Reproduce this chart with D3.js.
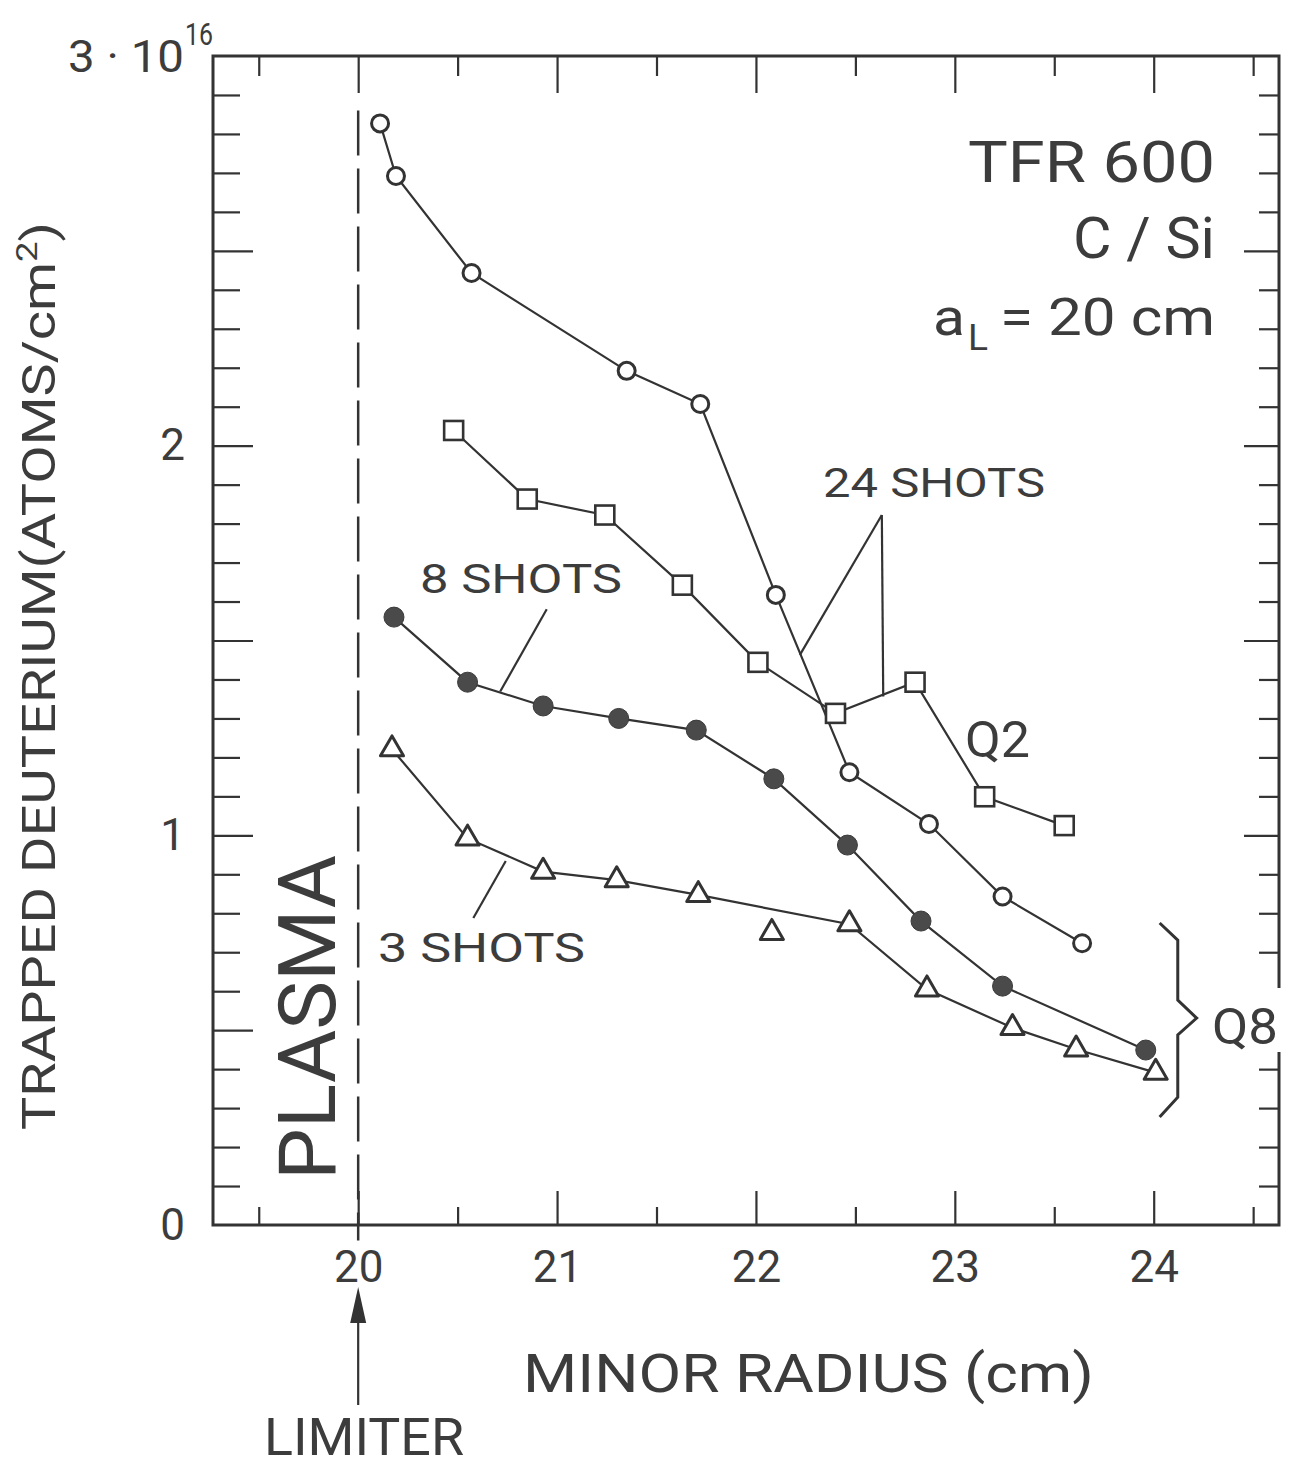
<!DOCTYPE html>
<html><head><meta charset="utf-8">
<script src="https://cdn.jsdelivr.net/npm/d3@7"></script>
<style>
body{margin:0;background:#fff}
text{font-family:Roboto,"DejaVu Sans",sans-serif;fill:#3c3c3c}
</style>
</head><body>
<svg id="c" width="1296" height="1469"></svg>
<script>
// ---- data (minor radius in cm, trapped deuterium in 1e16 atoms/cm^2) ----
const circR = [20.11,20.19,20.57,21.35,21.72,22.10,22.47,22.87,23.24,23.64];   // Q8, 24 shots
const circD = [2.827,2.692,2.443,2.192,2.107,1.617,1.162,1.029,0.843,0.723];
const sqR   = [20.48,20.85,21.24,21.63,22.01,22.40,22.80,23.15,23.55];         // Q2, 24 shots
const sqD   = [2.039,1.863,1.822,1.642,1.444,1.313,1.393,1.099,1.025];
const dotR  = [20.18,20.55,20.93,21.31,21.70,22.09,22.46,22.83,23.24,23.96];   // Q8, 8 shots
const dotD  = [1.560,1.393,1.332,1.300,1.270,1.145,0.975,0.780,0.613,0.449];
const triR  = [20.17,20.55,20.93,21.30,21.71,22.47,22.86,23.29,23.61,24.01];   // Q8, 3 shots
const triD  = [1.221,0.992,0.907,0.885,0.847,0.772,0.605,0.506,0.451,0.391];
const triLoneR = [22.08];                                                        // unconnected point
const triLoneD = [0.750];

const xMajor = [20,21,22,23,24];
const xMinor = [19.5,20.5,21.5,22.5,23.5,24.5];
const yLabels = [0,1,2];

const svg = d3.select("#c");
const INK = "#333";
const x = d3.scaleLinear().domain([19.27,24.63]).range([213,1279]);
const y = d3.scaleLinear().domain([0,3]).range([1225,56]);
const zip = (a,b)=>a.map((v,i)=>({r:v,d:b[i]}));

// ---- frame ----
svg.append("rect").attr("x",x(19.27)).attr("y",y(3)).attr("width",x(24.63)-x(19.27))
  .attr("height",y(0)-y(3)).attr("fill","none").attr("stroke",INK).attr("stroke-width",3);

const yAll = d3.range(1,30).map(i=>i/10);
const yMaj = yAll.filter(v=>Math.abs(v*2-Math.round(v*2))<1e-6);
const yMin = yAll.filter(v=>!yMaj.includes(v));

function styleAxis(g){
  g.select(".domain").remove();
  g.selectAll(".tick line").attr("stroke",INK).attr("stroke-width",2.2);
  g.selectAll("text").style("font-family","Roboto, 'DejaVu Sans', sans-serif").attr("fill","#3c3c3c");
}
// bottom
svg.append("g").attr("transform",`translate(0,${y(0)})`)
  .call(d3.axisBottom(x).tickValues(xMinor.filter(v=>v<24.6)).tickSize(-18).tickFormat("")).call(styleAxis);
svg.append("g").attr("transform",`translate(0,${y(0)})`)
  .call(d3.axisBottom(x).tickValues(xMajor).tickSize(-34).tickPadding(26).tickFormat(d3.format("d")))
  .call(styleAxis).call(g=>g.selectAll("text").attr("font-size",44));
// top
svg.append("g").attr("transform",`translate(0,${y(3)})`)
  .call(d3.axisTop(x).tickValues(xMinor.filter(v=>v<24.6)).tickSize(-20).tickFormat("")).call(styleAxis);
svg.append("g").attr("transform",`translate(0,${y(3)})`)
  .call(d3.axisTop(x).tickValues(xMajor).tickSize(-37).tickFormat("")).call(styleAxis);
// left
svg.append("g").attr("transform",`translate(${x(19.27)},0)`)
  .call(d3.axisLeft(y).tickValues(yMin).tickSize(-27).tickFormat("")).call(styleAxis);
svg.append("g").attr("transform",`translate(${x(19.27)},0)`)
  .call(d3.axisLeft(y).tickValues(yMaj).tickSize(-40).tickFormat("")).call(styleAxis);
svg.append("g").attr("transform",`translate(${x(19.27)},0)`)
  .call(d3.axisLeft(y).tickValues(yLabels).tickSize(0).tickPadding(28).tickFormat(d3.format("d")))
  .call(styleAxis).call(g=>g.selectAll("text").attr("font-size",44));
// right
svg.append("g").attr("transform",`translate(${x(24.63)},0)`)
  .call(d3.axisRight(y).tickValues(yMin).tickSize(-20).tickFormat("")).call(styleAxis);
svg.append("g").attr("transform",`translate(${x(24.63)},0)`)
  .call(d3.axisRight(y).tickValues(yMaj).tickSize(-35).tickFormat("")).call(styleAxis);

// "3·10^16" label
svg.append("text").attr("x",68).attr("y",72).attr("font-size",44)
  .attr("textLength",116).attr("lengthAdjust","spacingAndGlyphs").text("3 · 10");
svg.append("text").attr("x",185).attr("y",45).attr("font-size",32)
  .attr("textLength",28).attr("lengthAdjust","spacingAndGlyphs").text("16");

// ---- limiter dashed line ----
svg.append("line").attr("x1",x(20)).attr("x2",x(20)).attr("y1",y(2.86)).attr("y2",y(-0.04))
  .attr("stroke",INK).attr("stroke-width",2.5).attr("stroke-dasharray","45 13");

// ---- series lines ----
const line = d3.line().x(p=>x(p.r)).y(p=>y(p.d));
[[circR,circD],[sqR,sqD],[dotR,dotD],[triR,triD]].forEach(([a,b])=>{
  svg.append("path").datum(zip(a,b)).attr("d",line).attr("fill","none")
    .attr("stroke",INK).attr("stroke-width",2.2);
});

// ---- annotation leader lines (data coordinates) ----
const leaders = [
  [[20.948,1.580],[20.714,1.369]],
  [[20.742,0.934],[20.579,0.788]],
  [[22.633,1.822],[22.221,1.463]],
  [[22.633,1.822],[22.640,1.356]]
];
leaders.forEach(seg=>{
  svg.append("path").attr("d",d3.line().x(p=>x(p[0])).y(p=>y(p[1]))(seg))
    .attr("fill","none").attr("stroke",INK).attr("stroke-width",2.2);
});
// Q8 brace
const brace = [[24.030,0.775],[24.121,0.731],[24.121,0.577],[24.216,0.531],[24.121,0.488],[24.121,0.328],[24.030,0.277]];
svg.append("path").attr("d",d3.line().x(p=>x(p[0])).y(p=>y(p[1]))(brace))
  .attr("fill","none").attr("stroke",INK).attr("stroke-width",3);

// ---- markers ----
svg.append("g").selectAll("circle").data(zip(circR,circD)).join("circle")
  .attr("cx",p=>x(p.r)).attr("cy",p=>y(p.d)).attr("r",8.5)
  .attr("fill","#fff").attr("stroke",INK).attr("stroke-width",3);
svg.append("g").selectAll("rect").data(zip(sqR,sqD)).join("rect")
  .attr("x",p=>x(p.r)-9.5).attr("y",p=>y(p.d)-9.5).attr("width",19).attr("height",19)
  .attr("fill","#fff").attr("stroke",INK).attr("stroke-width",2.6);
svg.append("g").selectAll("circle").data(zip(dotR,dotD)).join("circle")
  .attr("cx",p=>x(p.r)).attr("cy",p=>y(p.d)).attr("r",10)
  .attr("fill","#4a4a4a").attr("stroke","#3a3a3a").attr("stroke-width",1);
const tri = d3.symbol().type(d3.symbolTriangle).size(230);
svg.append("g").selectAll("path").data(zip(triR,triD).concat(zip(triLoneR,triLoneD))).join("path")
  .attr("transform",p=>`translate(${x(p.r)},${y(p.d)})`).attr("d",tri)
  .attr("fill","#fff").attr("stroke",INK).attr("stroke-width",3).attr("stroke-linejoin","round");

// ---- texts ----
function txt(s,xx,yy,size,len,anchor){
  const t=svg.append("text").attr("x",xx).attr("y",yy).attr("font-size",size).text(s);
  if(len) t.attr("textLength",len).attr("lengthAdjust","spacingAndGlyphs");
  if(anchor) t.attr("text-anchor",anchor);
  return t;
}
txt("TFR 600",968,182,58,247);
txt("C / Si",1073,258,58,142);
txt("a",933,335,52,32);
txt("L",968,350,36,20);
txt("= 20 cm",1000,335,52,215);
txt("24 SHOTS",823,497,40,222);
txt("8 SHOTS",420,593,40,202);
txt("3 SHOTS",378,962,40,207);
txt("Q2",965,757,50,65);
// Q8 with a break in the right axis
svg.append("rect").attr("x",1206).attr("y",988).attr("width",84).attr("height",64).attr("fill","#fff");
txt("Q8",1212,1044,50,66);

txt("MINOR RADIUS  (cm)",523,1392,54,571);
txt("LIMITER",264,1455,52,200);

// limiter arrow
svg.append("line").attr("x1",x(20)).attr("x2",x(20)).attr("y1",1405).attr("y2",1310)
  .attr("stroke",INK).attr("stroke-width",2.2);
svg.append("path").attr("d",`M${x(20)},1287 L${x(20)-8},1323 L${x(20)+8},1323 Z`).attr("fill",INK);

// PLASMA (rotated)
svg.append("text").attr("transform","translate(335,1180) rotate(-90)")
  .attr("font-size",80).attr("textLength",325).attr("lengthAdjust","spacingAndGlyphs").text("PLASMA");

// y-axis title (rotated)
const yt = svg.append("text").attr("transform","translate(55,1130) rotate(-90)").attr("font-size",46);
yt.append("tspan").text("TRAPPED DEUTERIUM(ATOMS/cm");
yt.append("tspan").attr("dy",-18).attr("font-size",30).text("2");
yt.append("tspan").attr("dy",18).text(")");
yt.attr("textLength",908).attr("lengthAdjust","spacingAndGlyphs");
</script>
</body></html>
